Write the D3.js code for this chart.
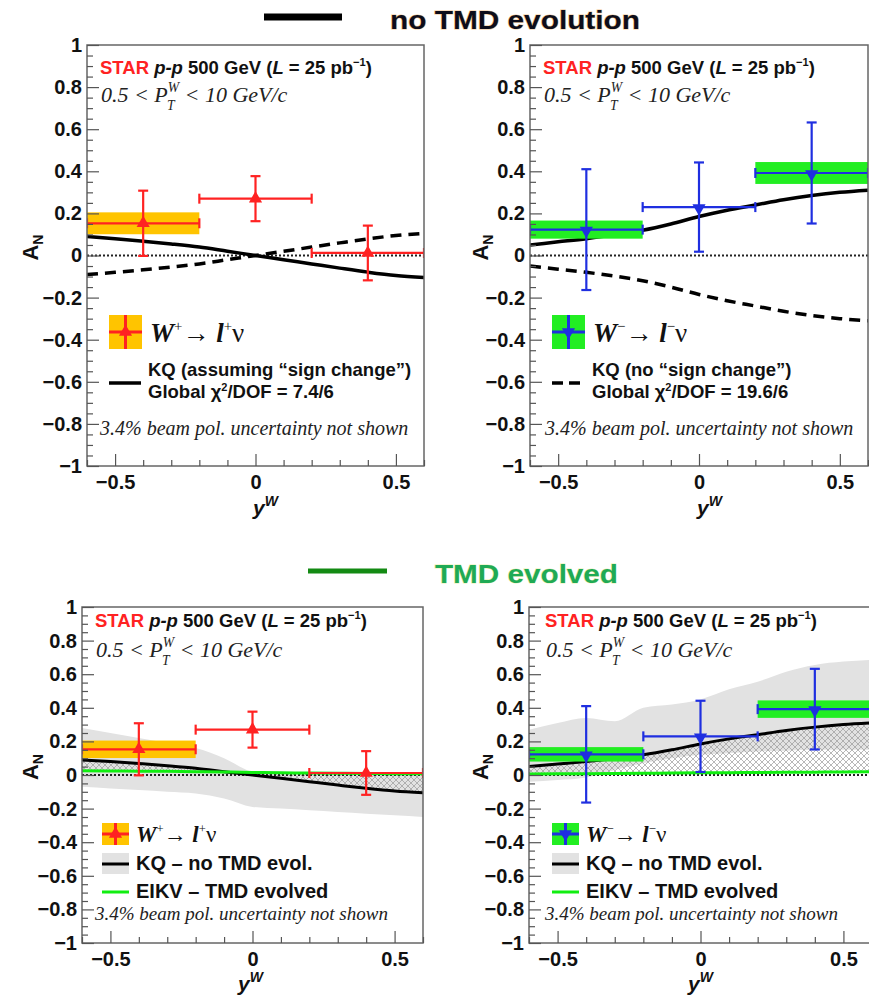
<!DOCTYPE html>
<html>
<head>
<meta charset="utf-8">
<script src="https://cdn.jsdelivr.net/npm/d3@7"></script>
<style>
  body { margin: 0; background: #fff; }
  svg { display: block; }
</style>
</head>
<body>
<div id="chart"></div>
<script>
// ---- data ----
const yWBins = [-0.4, 0, 0.4];
const yWHalfWidth = [0.2, 0.2, 0.2];

const wPlusAN = [0.153, 0.270, 0.012];
const wPlusStat = [0.155, 0.107, 0.130];
const wPlusSys = [0.052, 0, 0];

const wMinusAN = [0.123, 0.230, 0.392];
const wMinusStat = [0.287, 0.212, 0.240];
const wMinusSys = [0.043, 0, 0.052];

// theory curves sampled on this rapidity grid
const curveYW = [-0.6, -0.5, -0.4, -0.3, -0.2, -0.1, 0, 0.1, 0.2, 0.3, 0.4, 0.5, 0.6];
const kqSignWp = [0.090, 0.080, 0.068, 0.055, 0.040, 0.020, 0.000, -0.020, -0.040, -0.060, -0.079, -0.095, -0.105];
const kqNoSignWp = [-0.090, -0.080, -0.068, -0.055, -0.040, -0.020, 0.000, 0.020, 0.040, 0.060, 0.079, 0.095, 0.105];
const kqSignWm = [0.050, 0.065, 0.080, 0.098, 0.120, 0.150, 0.185, 0.215, 0.240, 0.265, 0.285, 0.300, 0.310];
const kqNoSignWm = [-0.050, -0.065, -0.080, -0.098, -0.120, -0.150, -0.185, -0.215, -0.240, -0.265, -0.285, -0.300, -0.310];
const eikvWp = [0.025, 0.024, 0.023, 0.022, 0.020, 0.018, 0.015, 0.013, 0.012, 0.010, 0.009, 0.008, 0.008];
const eikvWm = [0.006, 0.007, 0.008, 0.009, 0.010, 0.012, 0.013, 0.014, 0.015, 0.016, 0.017, 0.018, 0.020];
const kqBandWpLow = [-0.07, -0.08, -0.09, -0.10, -0.11, -0.14, -0.19, -0.20, -0.21, -0.22, -0.23, -0.24, -0.25];
const kqBandWpHigh = [0.28, 0.25, 0.22, 0.19, 0.16, 0.10, 0.02, 0.005, 0.005, 0.005, 0.005, 0.005, 0.005];
const kqBandWmLow = [-0.04, -0.03, -0.015, 0.03, 0.07, 0.10, 0.12, 0.13, 0.14, 0.145, 0.15, 0.15, 0.15];
const kqBandWmHigh = [0.27, 0.31, 0.34, 0.32, 0.40, 0.42, 0.45, 0.51, 0.555, 0.615, 0.655, 0.675, 0.685];

// axis ticks
const yMajorTicks = [-1, -0.8, -0.6, -0.4, -0.2, 0, 0.2, 0.4, 0.6, 0.8, 1];
const yTickLabels = ["\u22121", "\u22120.8", "\u22120.6", "\u22120.4", "\u22120.2", "0", "0.2", "0.4", "0.6", "0.8", "1"];
const xMajorTicks = [-0.5, 0, 0.5];
const xTickLabels = ["\u22120.5", "0", "0.5"];

const SANS = "'Liberation Sans', Arial, Helvetica, sans-serif";
const SERIF = "'Liberation Serif', 'Times New Roman', serif";
const RED = "#ff2222", BLUE = "#1f2fe0", GOLD = "#ffc400", LGREEN = "#22ee22";

const svg = d3.select("#chart").append("svg")
    .attr("width", 869)
    .attr("height", 995)
    .attr("viewBox", "0 0 869 995");

const defs = svg.append("defs");
const hatch = defs.append("pattern")
    .attr("id", "xhatch")
    .attr("patternUnits", "userSpaceOnUse")
    .attr("width", 6).attr("height", 6);
hatch.append("path")
    .attr("d", "M0,0L6,6M6,0L0,6")
    .attr("stroke", "#999").attr("stroke-width", 0.7);

// ---- titles ----
svg.append("line").attr("x1", 264).attr("x2", 342).attr("y1", 17).attr("y2", 17)
    .attr("stroke", "#000").attr("stroke-width", 7);
svg.append("text").attr("x", 390).attr("y", 29)
    .attr("font-family", SANS).attr("font-weight", "bold").attr("font-size", 26)
    .attr("textLength", 250).attr("lengthAdjust", "spacingAndGlyphs")
    .attr("fill", "#0d0d1a").attr("stroke", "#e8a040").attr("stroke-width", 1.2)
    .attr("stroke-opacity", 0.6).attr("paint-order", "stroke")
    .text("no TMD evolution");

svg.append("line").attr("x1", 308).attr("x2", 387).attr("y1", 571).attr("y2", 571)
    .attr("stroke", "#138a13").attr("stroke-width", 5);
svg.append("text").attr("x", 435).attr("y", 583)
    .attr("font-family", SANS).attr("font-weight", "bold").attr("font-size", 26)
    .attr("textLength", 183).attr("lengthAdjust", "spacingAndGlyphs")
    .attr("fill", "#1faa55").attr("stroke", "#d8e060").attr("stroke-width", 1)
    .attr("stroke-opacity", 0.5).attr("paint-order", "stroke")
    .text("TMD evolved");

const panels = [
    {id: "tl", x0: 87, x1: 424, y0: 45, y1: 466, evolved: false, boson: "plus",
     starX: 100, starY: 74, ptY: 102, beamX: 100, beamY: 435, ttlX: 38, xtX: 253, xtY: 515},
    {id: "tr", x0: 530, x1: 868, y0: 45, y1: 466, evolved: false, boson: "minus",
     starX: 543, starY: 74, ptY: 102, beamX: 545, beamY: 435, ttlX: 488, xtX: 697, xtY: 515},
    {id: "bl", x0: 82, x1: 423, y0: 607, y1: 943, evolved: true, boson: "plus",
     starX: 95, starY: 627, ptY: 657, beamX: 95, beamY: 920, ttlX: 38, xtX: 238, xtY: 991},
    {id: "br", x0: 529, x1: 872, y0: 607, y1: 943, evolved: true, boson: "minus",
     starX: 545, starY: 627, ptY: 657, beamX: 545, beamY: 920, ttlX: 488, xtX: 688, xtY: 991}
];

const triUp = d3.symbol().type(d3.symbolTriangle).size(75);

function starLabel(g, x, y, fs) {
    const t = g.append("text").attr("x", x).attr("y", y)
        .attr("font-family", SANS).attr("font-weight", "bold").attr("font-size", fs).attr("fill", "#111");
    t.append("tspan").attr("fill", RED).text("STAR");
    t.append("tspan").attr("font-style", "italic").text(" p-p");
    t.append("tspan").text(" 500 GeV (");
    t.append("tspan").attr("font-style", "italic").text("L");
    t.append("tspan").text(" = 25 pb");
    t.append("tspan").attr("font-size", fs * 0.6).attr("dy", -fs * 0.42).text("\u22121");
    t.append("tspan").attr("dy", fs * 0.42).text(")");
}

function ptLabel(g, x, y, fs) {
    const t = g.append("text").attr("x", x).attr("y", y)
        .attr("font-family", SERIF).attr("font-style", "italic").attr("font-size", fs).attr("fill", "#222");
    t.append("tspan").text("0.5 < P");
    t.append("tspan").attr("font-size", fs * 0.62).attr("dy", -fs * 0.45).text("W");
    t.append("tspan").attr("font-size", fs * 0.62).attr("dx", -fs * 0.55).attr("dy", fs * 0.8).text("T");
    t.append("tspan").attr("dx", fs * 0.2).attr("dy", -fs * 0.35).text(" < 10 GeV/c");
}

function decayLabel(g, x, y, fs, sign) {
    const s = sign === "plus" ? "+" : "\u2212";
    const t = g.append("text").attr("x", x).attr("y", y)
        .attr("font-family", SERIF).attr("font-size", fs).attr("fill", "#111");
    t.append("tspan").attr("font-style", "italic").attr("font-weight", "bold").text("W");
    t.append("tspan").attr("font-size", fs * 0.55).attr("dy", -fs * 0.4).text(s);
    t.append("tspan").attr("dy", fs * 0.4).text("\u2192 ");
    t.append("tspan").attr("font-style", "italic").attr("font-weight", "bold").text("l");
    t.append("tspan").attr("font-size", fs * 0.55).attr("dy", -fs * 0.4).text(s);
    t.append("tspan").attr("dy", fs * 0.4).text("\u03bd");
}

function drawPanel(p) {
    const g = svg.append("g");
    const x = d3.scaleLinear().domain([-0.6, 0.6]).range([p.x0, p.x1]);
    const y = d3.scaleLinear().domain([-1, 1]).range([p.y1, p.y0]);
    const plus = p.boson === "plus";
    const an = plus ? wPlusAN : wMinusAN;
    const stat = plus ? wPlusStat : wMinusStat;
    const sys = plus ? wPlusSys : wMinusSys;
    const col = plus ? RED : BLUE;
    const boxCol = plus ? GOLD : LGREEN;

    defs.append("clipPath").attr("id", "clip-" + p.id)
        .append("rect").attr("x", p.x0).attr("y", p.y0)
        .attr("width", p.x1 - p.x0).attr("height", p.y1 - p.y0);
    const plot = g.append("g").attr("clip-path", `url(#clip-${p.id})`);

    const line = d3.line().x((d, i) => x(curveYW[i])).y(d => y(d)).curve(d3.curveMonotoneX);

    if (p.evolved) {
        const lo = plus ? kqBandWpLow : kqBandWmLow;
        const hi = plus ? kqBandWpHigh : kqBandWmHigh;
        const kq = plus ? kqSignWp : kqSignWm;
        const ek = plus ? eikvWp : eikvWm;
        const area = (a, b) => d3.area().x((d, i) => x(curveYW[i]))
            .y0((d, i) => y(a[i])).y1((d, i) => y(b[i])).curve(d3.curveMonotoneX)(curveYW);
        plot.append("path").attr("d", area(lo, hi)).attr("fill", "#e2e2e2");
        plot.append("path").attr("d", area(ek, kq)).attr("fill", "url(#xhatch)");
        plot.append("line").attr("x1", p.x0).attr("x2", p.x1).attr("y1", y(0)).attr("y2", y(0))
            .attr("stroke", "#222").attr("stroke-width", 2).attr("stroke-dasharray", "2,2");
        plot.append("path").attr("d", line(kq)).attr("fill", "none")
            .attr("stroke", "#000").attr("stroke-width", 3);
        plot.append("path").attr("d", line(ek)).attr("fill", "none")
            .attr("stroke", "#11ee11").attr("stroke-width", 3);
    } else {
        plot.append("line").attr("x1", p.x0).attr("x2", p.x1).attr("y1", y(0)).attr("y2", y(0))
            .attr("stroke", "#222").attr("stroke-width", 2).attr("stroke-dasharray", "2,2");
        plot.append("path").attr("d", line(plus ? kqSignWp : kqSignWm)).attr("fill", "none")
            .attr("stroke", "#000").attr("stroke-width", 3.5);
        plot.append("path").attr("d", line(plus ? kqNoSignWp : kqNoSignWm)).attr("fill", "none")
            .attr("stroke", "#000").attr("stroke-width", 3.5).attr("stroke-dasharray", "11,7");
    }

    // systematic boxes
    plot.selectAll(".sys").data(yWBins.map((v, i) => i).filter(i => sys[i] > 0)).join("rect")
        .attr("x", i => x(yWBins[i] - yWHalfWidth[i]))
        .attr("width", i => x(yWBins[i] + yWHalfWidth[i]) - x(yWBins[i] - yWHalfWidth[i]))
        .attr("y", i => y(an[i] + sys[i]))
        .attr("height", i => y(an[i] - sys[i]) - y(an[i] + sys[i]))
        .attr("fill", boxCol);

    // error bars
    const eb = plot.selectAll(".pt").data(yWBins).join("g");
    eb.append("line")
        .attr("x1", (d, i) => x(d - yWHalfWidth[i])).attr("x2", (d, i) => x(d + yWHalfWidth[i]))
        .attr("y1", (d, i) => y(an[i])).attr("y2", (d, i) => y(an[i]));
    eb.append("line")
        .attr("x1", d => x(d)).attr("x2", d => x(d))
        .attr("y1", (d, i) => y(an[i] + stat[i])).attr("y2", (d, i) => y(an[i] - stat[i]));
    [-1, 1].forEach(s => {
        eb.append("line")
            .attr("x1", d => x(d) - 5).attr("x2", d => x(d) + 5)
            .attr("y1", (d, i) => y(an[i] + s * stat[i])).attr("y2", (d, i) => y(an[i] + s * stat[i]));
        eb.append("line")
            .attr("x1", (d, i) => x(d + s * yWHalfWidth[i])).attr("x2", (d, i) => x(d + s * yWHalfWidth[i]))
            .attr("y1", (d, i) => y(an[i]) - 5).attr("y2", (d, i) => y(an[i]) + 5);
    });
    eb.selectAll("line").attr("stroke", col).attr("stroke-width", 2.2);
    eb.append("path").attr("d", triUp)
        .attr("transform", (d, i) => `translate(${x(d)},${y(an[i]) + (plus ? 0 : 1)}) rotate(${plus ? 0 : 180})`)
        .attr("fill", col);

    // frame
    g.append("rect").attr("x", p.x0).attr("y", p.y0)
        .attr("width", p.x1 - p.x0).attr("height", p.y1 - p.y0)
        .attr("fill", "none").attr("stroke", "#666").attr("stroke-width", 1.5);

    // axes (ticks drawn inward, ROOT style)
    const yMinor = d3.range(-1, 1.0001, 0.05).filter(v => Math.abs(v * 5 - Math.round(v * 5)) > 1e-6);
    const xMinor = d3.range(-0.6, 0.6001, 0.1).filter(v => Math.abs(v * 2 - Math.round(v * 2)) > 1e-6);
    g.append("g").attr("transform", `translate(${p.x0},0)`)
        .call(d3.axisLeft(y).tickValues(yMajorTicks).tickSize(-12).tickPadding(5)
            .tickFormat((d, i) => yTickLabels[i]));
    g.append("g").attr("transform", `translate(${p.x0},0)`)
        .call(d3.axisLeft(y).tickValues(yMinor).tickSize(-6).tickFormat(""));
    g.append("g").attr("transform", `translate(0,${p.y1})`)
        .call(d3.axisBottom(x).tickValues(xMajorTicks).tickSize(-12).tickPadding(9)
            .tickFormat((d, i) => xTickLabels[i]));
    g.append("g").attr("transform", `translate(0,${p.y1})`)
        .call(d3.axisBottom(x).tickValues(xMinor).tickSize(-6).tickFormat(""));
    g.selectAll(".domain").remove();
    g.selectAll(".tick line").attr("stroke", "#555").attr("stroke-width", 1.2);
    g.selectAll(".tick text").attr("font-family", SANS).attr("font-weight", "bold")
        .attr("font-size", 20).attr("fill", "#111");

    // axis titles
    const at = g.append("text")
        .attr("transform", `translate(${p.ttlX},${y(0) - 8}) rotate(-90)`)
        .attr("text-anchor", "middle").attr("font-family", SANS).attr("font-weight", "bold")
        .attr("font-size", 22).attr("fill", "#111");
    at.append("tspan").text("A");
    at.append("tspan").attr("font-size", 14).attr("dy", 5).text("N");
    const xt = g.append("text").attr("x", p.xtX).attr("y", p.xtY)
        .attr("font-family", SANS).attr("font-weight", "bold").attr("font-size", 21).attr("fill", "#111");
    xt.append("tspan").attr("font-style", "italic").text("y");
    xt.append("tspan").attr("font-size", 14).attr("dy", -9).attr("font-style", "italic").text("W");

    // labels
    starLabel(g, p.starX, p.starY, 18.5);
    ptLabel(g, p.starX + 1, p.ptY, 22);
    g.append("text").attr("x", p.beamX).attr("y", p.beamY)
        .attr("font-family", SERIF).attr("font-style", "italic")
        .attr("font-size", p.evolved ? 19 : 20).attr("fill", "#222")
        .text("3.4% beam pol. uncertainty not shown");

    // legends
    if (!p.evolved) {
        const lx = p.x0 + 22;
        g.append("rect").attr("x", lx).attr("y", 315).attr("width", 33).attr("height", 34).attr("fill", boxCol);
        g.append("line").attr("x1", lx).attr("x2", lx + 33).attr("y1", 332).attr("y2", 332)
            .attr("stroke", col).attr("stroke-width", 3);
        g.append("line").attr("x1", lx + 16.5).attr("x2", lx + 16.5).attr("y1", 315).attr("y2", 349)
            .attr("stroke", col).attr("stroke-width", 3);
        g.append("path").attr("d", triUp)
            .attr("transform", `translate(${lx + 16.5},332) rotate(${plus ? 0 : 180})`).attr("fill", col);
        decayLabel(g, lx + 41, 342, 27, p.boson);
        g.append("line").attr("x1", lx).attr("x2", lx + (plus ? 32 : 28)).attr("y1", 383).attr("y2", 383)
            .attr("stroke", "#000").attr("stroke-width", 3.5)
            .attr("stroke-dasharray", plus ? null : "11,6");
        const kt = g.append("text").attr("font-family", SANS).attr("font-weight", "bold")
            .attr("font-size", 18.5).attr("fill", "#111");
        kt.append("tspan").attr("x", lx + (plus ? 39 : 40)).attr("y", 376)
            .text(plus ? "KQ (assuming \u201csign change\u201d)" : "KQ (no \u201csign change\u201d)");
        kt.append("tspan").attr("x", lx + (plus ? 39 : 40)).attr("y", 398).text("Global \u03c7");
        kt.append("tspan").attr("font-size", 11).attr("dy", -7).text("2");
        kt.append("tspan").attr("dy", 7).text(plus ? "/DOF = 7.4/6" : "/DOF = 19.6/6");
    } else {
        const lx = plus ? p.x0 + 20 : p.x0 + 23;
        g.append("rect").attr("x", lx).attr("y", 823).attr("width", 27).attr("height", 22).attr("fill", boxCol);
        g.append("line").attr("x1", lx).attr("x2", lx + 27).attr("y1", 834).attr("y2", 834)
            .attr("stroke", col).attr("stroke-width", 3);
        g.append("line").attr("x1", lx + 13.5).attr("x2", lx + 13.5).attr("y1", 823).attr("y2", 845)
            .attr("stroke", col).attr("stroke-width", 3);
        g.append("path").attr("d", triUp)
            .attr("transform", `translate(${lx + 13.5},834) rotate(${plus ? 0 : 180})`).attr("fill", col);
        decayLabel(g, lx + 34, 842, 23, p.boson);
        g.append("rect").attr("x", lx).attr("y", 853).attr("width", 27).attr("height", 21).attr("fill", "#e2e2e2");
        g.append("line").attr("x1", lx).attr("x2", lx + 27).attr("y1", 864).attr("y2", 864)
            .attr("stroke", "#000").attr("stroke-width", 3);
        g.append("text").attr("x", lx + 34).attr("y", 870)
            .attr("font-family", SANS).attr("font-weight", "bold").attr("font-size", 20).attr("fill", "#111")
            .text("KQ \u2013 no TMD evol.");
        g.append("line").attr("x1", lx).attr("x2", lx + 27).attr("y1", 892).attr("y2", 892)
            .attr("stroke", "#11ee11").attr("stroke-width", 3);
        g.append("text").attr("x", lx + 34).attr("y", 898)
            .attr("font-family", SANS).attr("font-weight", "bold").attr("font-size", 20).attr("fill", "#111")
            .text("EIKV \u2013 TMD evolved");
    }
}

panels.forEach(drawPanel);
</script>
</body>
</html>
